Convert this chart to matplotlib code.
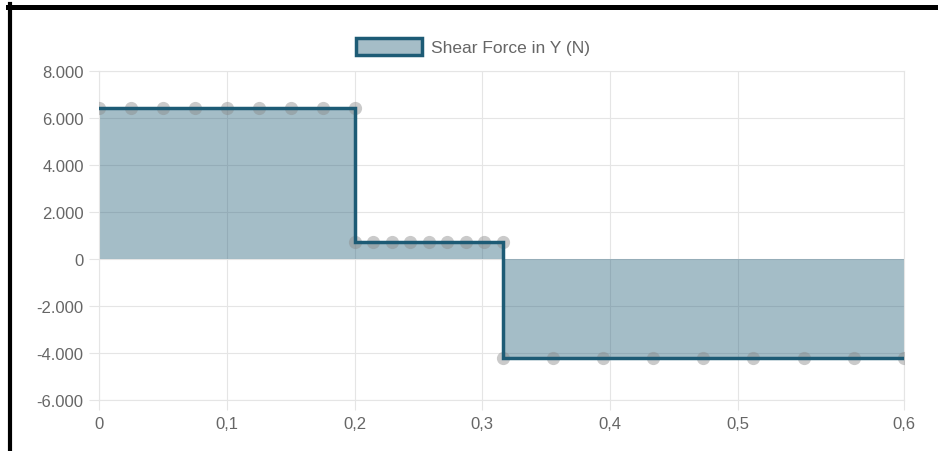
import matplotlib.pyplot as plt
from matplotlib.lines import Line2D
from matplotlib.patches import Patch

plt.rcParams['font.family'] = ['Liberation Sans', 'DejaVu Sans']

# sample positions along the beam (m) and shear force (N)
x_seg1 = [0, 0.025, 0.05, 0.075, 0.1, 0.125, 0.15, 0.175, 0.2]
x_seg2 = [0.2, 0.2145, 0.229, 0.2435, 0.258, 0.2725, 0.287, 0.3015, 0.316]
x_seg3 = [0.316, 0.3552, 0.3945, 0.4337, 0.473, 0.5122, 0.5515, 0.5907, 0.63]
v_seg1 = [6400] * 9
v_seg2 = [700] * 9
v_seg3 = [-4240] * 9

xs = x_seg1 + x_seg2 + x_seg3
vs = v_seg1 + v_seg2 + v_seg3

y_ticks = [-6000, -4000, -2000, 0, 2000, 4000, 6000, 8000]
x_ticks = [0, 0.1, 0.2, 0.3, 0.4, 0.5]

line_color = '#1d5b75'
grid_color = '#e5e5e5'
text_color = '#666666'

fig = plt.figure(figsize=(9.38, 4.52), dpi=100)
ax = fig.add_axes([99 / 938, 1 - 400.7 / 452, 805 / 938, 329 / 452])

ax.fill_between(xs, vs, 0, color=line_color, alpha=0.4, linewidth=0, zorder=2)
ax.plot(xs, vs, 'o', color='#8a8a8a', alpha=0.45, markersize=9.5,
        markeredgewidth=0, zorder=3)
ax.plot(xs, vs, color=line_color, linewidth=2.5, solid_joinstyle='miter', zorder=4)

x_max = xs[-1]
ax.set_xlim(0, x_max)
ax.set_ylim(-6000, 8000)

xt = x_ticks + [x_max]
ax.set_xticks(xt)
ax.set_xticklabels(['0' if v == 0 else f'{v:.1f}'.replace('.', ',') for v in xt])
ax.set_yticks(y_ticks)
ax.set_yticklabels([f'{v:,}'.replace(',', '.') for v in y_ticks])

ax.grid(True, color=grid_color, linewidth=0.8, zorder=1)
ax.set_axisbelow(True)
for s in ax.spines.values():
    s.set_color(grid_color)
    s.set_linewidth(0.8)
ax.tick_params(axis='both', length=7.5, width=0.8, color=grid_color,
               labelcolor=text_color, labelsize=12)
ax.tick_params(axis='x', pad=4)
ax.tick_params(axis='y', pad=3.5)

handle = Patch(facecolor=(0.647, 0.741, 0.78), edgecolor=line_color, linewidth=2.5)
fig.legend([handle], ['Shear Force in Y (N)'], loc='center',
           bbox_to_anchor=(473 / 938, 1 - 47.5 / 452), frameon=False,
           handlelength=3.8, handleheight=1.2, handletextpad=0.5,
           labelcolor=text_color, fontsize=12.5)

# black frame edges of the screenshot
fig.add_artist(Line2D([8 / 938, 1], [1 - 7.5 / 452] * 2, color='black', linewidth=3.6))
fig.add_artist(Line2D([9.5 / 938] * 2, [0, 1 - 5 / 452], color='black', linewidth=3.0))

fig.savefig('out.png', dpi=100)
